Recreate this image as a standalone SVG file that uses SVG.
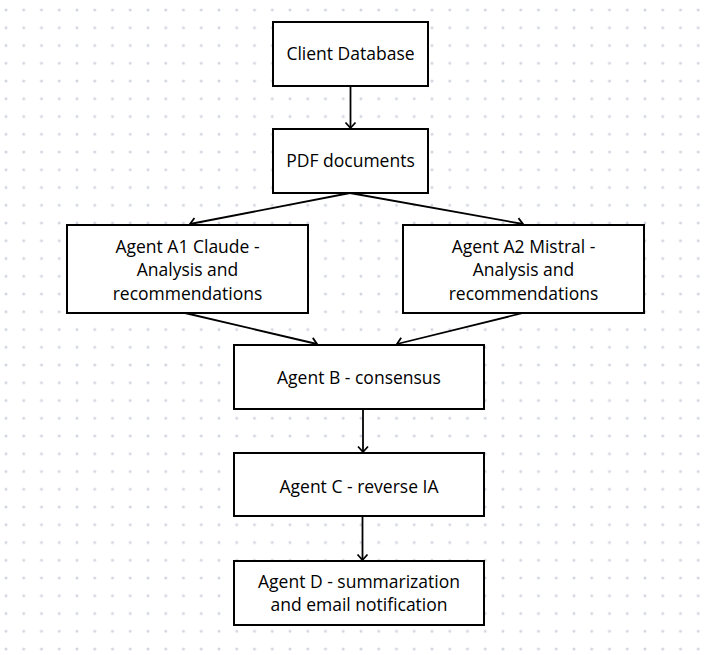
<svg xmlns="http://www.w3.org/2000/svg" width="714" height="655" viewBox="0 0 714 655">
  <style>
    .box { fill: #ffffff; stroke: #000000; stroke-width: 2; }
    .lbl { font-family: "Open Sans", "Noto Sans", "Liberation Sans", sans-serif; font-size: 17.5px; fill: #000000; text-anchor: middle; }
    .conn { stroke: #000000; stroke-width: 1.8; fill: none; marker-end: url(#arrow); }
  </style>
  <defs>
    <pattern id="dots" patternUnits="userSpaceOnUse" x="-2.875" y="1.125" width="17.75" height="17.75">
      <circle cx="8.875" cy="8.875" r="1.5" fill="#d2d6e0"/>
    </pattern>
    <marker id="arrow" markerUnits="userSpaceOnUse" markerWidth="14" markerHeight="14" viewBox="-7 -7 14 14" refX="0" refY="0" orient="auto">
      <path d="M-5.5,-5 L0,0 L-5.5,5" fill="none" stroke="#000000" stroke-width="1.8"/>
    </marker>
  </defs>
  <rect x="0" y="0" width="714" height="655" fill="#ffffff"/>
  <rect x="0" y="0" width="714" height="655" fill="url(#dots)"/>

  <g id="connectors">
    <line class="conn" x1="350.5" y1="86" x2="350.5" y2="128"/>
    <line class="conn" x1="350" y1="193" x2="190" y2="224"/>
    <line class="conn" x1="350" y1="193" x2="523" y2="224"/>
    <line class="conn" x1="185" y1="313" x2="317" y2="344"/>
    <line class="conn" x1="523" y1="313" x2="397" y2="344"/>
    <line class="conn" x1="363" y1="409" x2="363" y2="452"/>
    <line class="conn" x1="362.5" y1="516" x2="362.5" y2="560"/>
  </g>

  <g id="client-database">
    <rect class="box" x="273" y="22" width="155" height="64"/>
    <text class="lbl" x="350.5" y="60">Client Database</text>
  </g>
  <g id="pdf-documents">
    <rect class="box" x="273" y="129" width="155" height="64"/>
    <text class="lbl" x="350.5" y="167">PDF documents</text>
  </g>
  <g id="agent-a1">
    <rect class="box" x="67" y="225" width="241" height="88"/>
    <text class="lbl" x="187.5" y="252.5">Agent A1 Claude -</text>
    <text class="lbl" x="187.5" y="276">Analysis and</text>
    <text class="lbl" x="187.5" y="299.5">recommendations</text>
  </g>
  <g id="agent-a2">
    <rect class="box" x="403" y="225" width="241" height="88"/>
    <text class="lbl" x="523.5" y="252.5">Agent A2 Mistral -</text>
    <text class="lbl" x="523.5" y="276">Analysis and</text>
    <text class="lbl" x="523.5" y="299.5">recommendations</text>
  </g>
  <g id="agent-b">
    <rect class="box" x="234" y="345" width="250" height="64"/>
    <text class="lbl" x="359" y="384">Agent B - consensus</text>
  </g>
  <g id="agent-c">
    <rect class="box" x="234" y="453" width="250" height="63"/>
    <text class="lbl" x="359" y="492.5">Agent C - reverse IA</text>
  </g>
  <g id="agent-d">
    <rect class="box" x="234" y="561" width="250" height="64"/>
    <text class="lbl" x="359" y="587.5">Agent D - summarization</text>
    <text class="lbl" x="359" y="610.7">and email notification</text>
  </g>
</svg>
